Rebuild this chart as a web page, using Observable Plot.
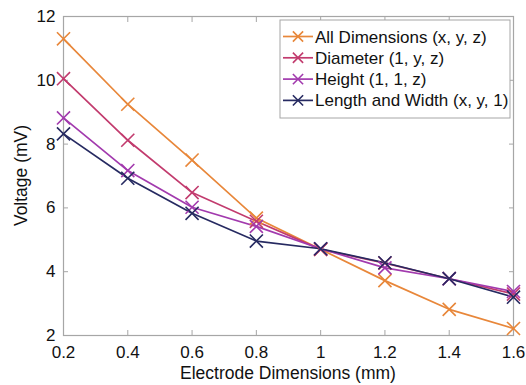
<!DOCTYPE html>
<html>
<head>
<meta charset="utf-8">
<script src="https://cdn.jsdelivr.net/npm/d3@7"></script>
<script src="https://cdn.jsdelivr.net/npm/@observablehq/plot@0.6"></script>
<style>
  html, body { margin: 0; padding: 0; background: #fff; }
  #chart { width: 526px; height: 385px; }
</style>
</head>
<body>
<div id="chart"></div>
<script>
const dims = [0.2, 0.4, 0.6, 0.8, 1.0, 1.2, 1.4, 1.6];
const allDims   = [11.3, 9.25, 7.5, 5.68, 4.7, 3.72, 2.82, 2.22];
const diameter  = [10.05, 8.12, 6.48, 5.58, 4.7, 4.27, 3.78, 3.3];
const heightDim = [8.82, 7.17, 6.02, 5.42, 4.72, 4.12, 3.78, 3.38];
const lenWidth  = [8.32, 6.93, 5.83, 4.96, 4.72, 4.28, 3.78, 3.2];
const seriesNames = ["All Dimensions (x, y, z)", "Diameter (1, y, z)", "Height (1, 1, z)", "Length and Width (x, y, 1)"];
const seriesColors = ["#E8873A", "#C23B6E", "#A23AAE", "#262A61"];
const xTicks = [0.2, 0.4, 0.6, 0.8, 1, 1.2, 1.4, 1.6];
const yTicks = [2, 4, 6, 8, 10, 12];

(function () {
const seriesValues = [allDims, diameter, heightDim, lenWidth];
const rows = [];
seriesValues.forEach((vals, i) => vals.forEach((v, j) => rows.push({series: seriesNames[i], x: dims[j], y: v})));

const W = 526, H = 385;
const FONT = "Liberation Sans, Arial, sans-serif";
const chart = Plot.plot({
  width: W, height: H,
  marginLeft: 63, marginRight: 13, marginTop: 16, marginBottom: 50,
  style: {fontFamily: FONT, background: "#fff", overflow: "visible"},
  x: {domain: [0.2, 1.6]},
  y: {domain: [2, 12]},
  color: {domain: seriesNames, range: seriesColors},
  marks: [
    Plot.frame({stroke: "#a6a6a6", strokeWidth: 1.2}),
    Plot.axisX(xTicks, {anchor: "bottom", tickSize: -5, stroke: "#a6a6a6", tickPadding: 15, fontSize: 17, fill: "#111", tickFormat: d => String(d), label: null}),
    Plot.axisX(xTicks, {anchor: "top", tickSize: -5, stroke: "#a6a6a6", tickFormat: () => "", label: null}),
    Plot.axisY(yTicks, {anchor: "left", tickSize: -5, stroke: "#a6a6a6", tickPadding: 13, fontSize: 17, fill: "#111", label: null}),
    Plot.axisY(yTicks, {anchor: "right", tickSize: -5, stroke: "#a6a6a6", tickFormat: () => "", label: null}),
    Plot.line(rows, {x: "x", y: "y", z: "series", stroke: "series", strokeWidth: 1.7}),
    Plot.dot(rows, {x: "x", y: "y", stroke: "series", symbol: "times", r: 6, strokeWidth: 1.6})
  ]
});
document.getElementById("chart").appendChild(chart);

const svg = d3.select(chart);
const xs = chart.scale("x"), ys = chart.scale("y");
const pLeft = xs.range[0], pRight = xs.range[1], pTop = ys.range[1], pBottom = ys.range[0];

svg.append("text").attr("x", (pLeft + pRight) / 2).attr("y", H - 6)
  .style("text-anchor", "middle").style("font-size", "17.5px").style("font-family", FONT).style("fill", "#111")
  .text("Electrode Dimensions (mm)");
svg.append("text").attr("transform", `translate(27,${(pTop + pBottom) / 2}) rotate(-90)`)
  .style("text-anchor", "middle").style("font-size", "17.5px").style("font-family", FONT).style("fill", "#111")
  .text("Voltage (mV)");

const lg = svg.append("g").attr("transform", `translate(${pLeft + 217},${pTop + 4})`);
lg.append("rect").attr("x", 0).attr("y", 0).attr("width", 230).attr("height", 98)
  .style("fill", "#fff").style("stroke", "#a6a6a6").style("stroke-width", "1px");
seriesNames.forEach((name, i) => {
  const cy = 16.5 + i * 21.3;
  const g = lg.append("g").attr("transform", `translate(0,${cy})`);
  g.append("line").attr("x1", 3).attr("x2", 33).attr("y1", 0).attr("y2", 0)
    .style("stroke", seriesColors[i]).style("stroke-width", "1.7px");
  g.append("path").attr("d", d3.symbol(d3.symbolTimes, 70)()).attr("transform", "translate(18,0)")
    .style("stroke", seriesColors[i]).style("stroke-width", "1.6px").style("fill", "none");
  g.append("text").attr("x", 35).attr("y", 6)
    .style("text-anchor", "start").style("font-size", "17px").style("font-family", FONT).style("fill", "#111")
    .text(name);
});
})();
</script>
</body>
</html>
